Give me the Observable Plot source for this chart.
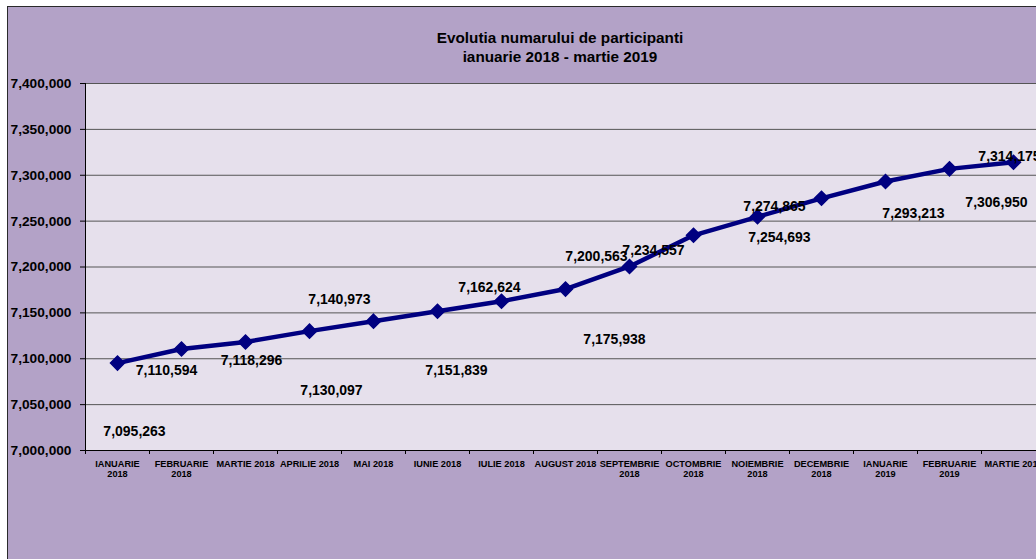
<!DOCTYPE html>
<html>
<head>
<meta charset="utf-8">
<script src="https://cdn.jsdelivr.net/npm/d3@7"></script>
<script src="https://cdn.jsdelivr.net/npm/@observablehq/plot@0.6"></script>
<style>
  html, body { margin: 0; padding: 0; background: #ffffff; overflow: hidden; width: 1036px; height: 559px; }
  #chart {
    position: absolute; left: 7px; top: 6px; width: 1110px; height: 600px;
    background: #b3a2c7; border: 1px solid #2a2a2a; overflow: hidden;
    font-family: "Liberation Sans", Arial, sans-serif;
  }
  #title {
    height: 60px; box-sizing: border-box; padding-top: 21px;
    width: 1104px; text-align: center; font-weight: bold; font-size: 15.3px; line-height: 19px; color: #000;
  }
  #title div { white-space: nowrap; }
</style>
</head>
<body>
<div id="chart">
  <div id="title"><div>Evolutia numarului de participanti</div><div>ianuarie 2018 - martie 2019</div></div>
  <div id="plot"></div>
</div>
<script>
// ---- data ----
const months = [
  "IANUARIE\n2018", "FEBRUARIE\n2018", "MARTIE 2018", "APRILIE 2018", "MAI 2018",
  "IUNIE 2018", "IULIE 2018", "AUGUST 2018", "SEPTEMBRIE\n2018", "OCTOMBRIE\n2018",
  "NOIEMBRIE\n2018", "DECEMBRIE\n2018", "IANUARIE\n2019", "FEBRUARIE\n2019", "MARTIE 2019"
];
const participants = [
  7095263, 7110594, 7118296, 7130097, 7140973,
  7151839, 7162624, 7175938, 7200563, 7234557,
  7254693, 7274865, 7293213, 7306950, 7314175
];
const yTicks = [7000000, 7050000, 7100000, 7150000, 7200000, 7250000, 7300000, 7350000, 7400000];

// ---- label placement (pixel offsets from each point, as in the original) ----
const labelOffsets = [
  [17, 68], [-15, 21], [6, 19], [22, 59], [-34, -22],
  [19, 59], [-12, -14], [49, 50], [-33, -10], [-40, 15],
  [22, 21], [-47, 8], [28, 32], [47, 34], [-4, -6]
];

const table = months.map((m, i) => ({i, month: m, value: participants[i]}));
const fmt = d3.format(",");
const boundaries = months.map((m, i) => i - 0.5).concat([months.length - 0.5]);

const font = "\"Liberation Sans\", Arial, sans-serif";

const labelMarks = table.map((d, k) => Plot.text([d], {
  x: "i", y: "value", text: d => fmt(d.value),
  dx: labelOffsets[k][0], dy: labelOffsets[k][1],
  fontSize: 14, fontWeight: "bold", fill: "#000"
}));

const chart = Plot.plot({
  width: 1037,
  height: 493,
  marginLeft: 77,
  marginRight: 0,
  marginTop: 16,
  marginBottom: 110,
  style: {background: "transparent", overflow: "visible", maxWidth: "none", fontFamily: font},
  x: {type: "linear", domain: [-0.5, months.length - 0.5]},
  y: {domain: [7000000, 7400000]},
  marks: [
    Plot.frame({fill: "#e6e0ec", stroke: null}),
    Plot.ruleY(yTicks, {stroke: "#555", strokeWidth: 1}),
    Plot.ruleX([-0.5], {stroke: "#000", strokeWidth: 1}),
    Plot.ruleY([7000000], {stroke: "#000", strokeWidth: 1}),
    Plot.axisY(yTicks, {
      tickFormat: fmt, tickSize: 5, tickPadding: 9, label: null,
      fontSize: 13.7, fontWeight: "bold", fill: "#000", stroke: "#000"
    }),
    Plot.axisX(boundaries, {
      tickSize: 4, tickFormat: () => "", label: null, stroke: "#000"
    }),
    Plot.axisX(table.map(d => d.i), {
      tickSize: 0, tickPadding: 9, label: null,
      tickFormat: i => months[i], fontSize: 9.2, fontWeight: "bold", fill: "#000",
      lineHeight: 1.1
    }),
    Plot.line(table, {x: "i", y: "value", stroke: "#000080", strokeWidth: 4.5}),
    Plot.dot(table, {x: "i", y: "value", symbol: "diamond2", r: 6.3, fill: "#000080", stroke: "#000080"}),
    ...labelMarks
  ]
});
document.getElementById("plot").appendChild(chart);
</script>
</body>
</html>
